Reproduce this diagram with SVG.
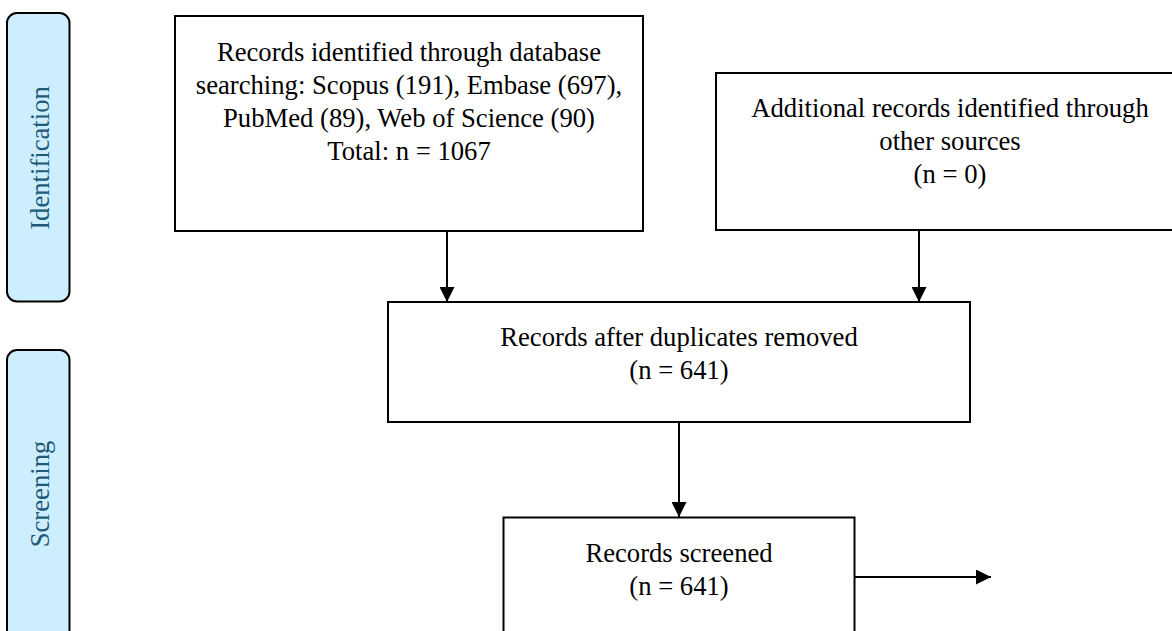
<svg xmlns="http://www.w3.org/2000/svg" width="1172" height="631" viewBox="0 0 1172 631">
<style>
.box{fill:#ffffff;stroke:#000000;stroke-width:2}
.phase{fill:#cdeeff;stroke:#000000;stroke-width:2}
.t{font-family:"Liberation Serif","Times New Roman",serif;font-size:26.67px;fill:#000000;text-anchor:middle}
.pt{font-family:"Liberation Serif","Times New Roman",serif;font-size:26.67px;fill:#1f5a78;text-anchor:middle}
.conn{stroke:#000000;stroke-width:2;fill:none}
</style>
<defs>
<marker id="arrow" viewBox="0 0 15 15" refX="15" refY="7.5" markerWidth="15" markerHeight="15" markerUnits="userSpaceOnUse" orient="auto">
<path d="M0,0 L15,7.5 L0,15 z" fill="#000000"/>
</marker>
</defs>
<rect width="1172" height="631" fill="#ffffff"/>
<g id="phase-identification">
<rect class="phase" x="7" y="13" width="62.5" height="288.5" rx="10" ry="10"/>
<text class="pt" transform="translate(49,158) rotate(-90)">Identification</text>
</g>
<g id="phase-screening">
<rect class="phase" x="7" y="350" width="62.5" height="300" rx="10" ry="10"/>
<text class="pt" transform="translate(49,494) rotate(-90)">Screening</text>
</g>
<g id="node-database">
<rect class="box" x="175" y="16" width="468" height="215"/>
<text class="t" x="409" y="61">Records identified through database</text>
<text class="t" x="409" y="94">searching: Scopus (191), Embase (697),</text>
<text class="t" x="409" y="127">PubMed (89), Web of Science (90)</text>
<text class="t" x="409" y="160">Total: n = 1067</text>
</g>
<g id="node-other">
<rect class="box" x="716" y="73" width="468" height="157"/>
<text class="t" x="950" y="117">Additional records identified through</text>
<text class="t" x="950" y="150">other sources</text>
<text class="t" x="950" y="183">(n = 0)</text>
</g>
<g id="node-duplicates">
<rect class="box" x="388" y="302" width="582" height="120"/>
<text class="t" x="679" y="346">Records after duplicates removed</text>
<text class="t" x="679" y="379">(n = 641)</text>
</g>
<g id="node-screened">
<rect class="box" x="503.5" y="517.5" width="351" height="140"/>
<text class="t" x="679" y="562">Records screened</text>
<text class="t" x="679" y="595">(n = 641)</text>
</g>
<g id="connectors">
<line class="conn" x1="447" y1="231" x2="447" y2="302" marker-end="url(#arrow)"/>
<line class="conn" x1="919" y1="230" x2="919" y2="302" marker-end="url(#arrow)"/>
<line class="conn" x1="679" y1="422" x2="679" y2="517" marker-end="url(#arrow)"/>
<line class="conn" x1="854.5" y1="577" x2="991" y2="577" marker-end="url(#arrow)"/>
</g>
</svg>
